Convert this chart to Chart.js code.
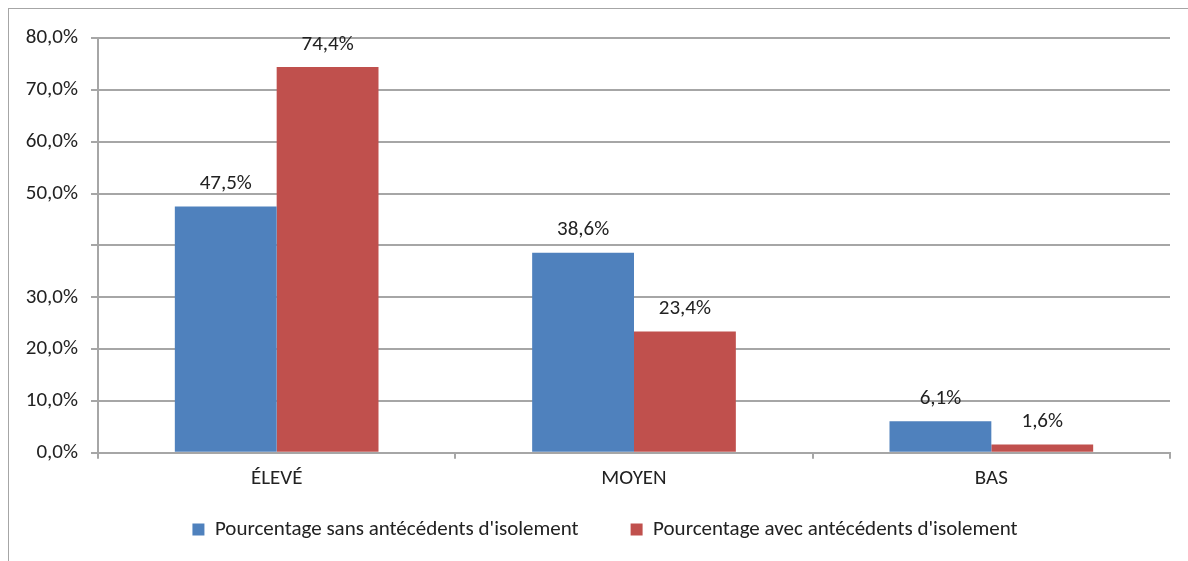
<!DOCTYPE html>
<html>
<head>
<meta charset="utf-8">
<script src="https://cdn.jsdelivr.net/npm/chart.js@4/dist/chart.umd.min.js"></script>
<style>
  html, body { margin: 0; padding: 0; background: #fff; }
  #wrap { position: relative; width: 1188px; height: 561px; overflow: hidden; }
  #frame { position: absolute; left: 8px; top: 8px; width: 1300px; height: 700px;
           border-left: 1px solid #a6a6a6; border-top: 1px solid #a6a6a6; }
  canvas { position: absolute; left: 0; top: 0; }
</style>
</head>
<body>
<div id="wrap">
  <div id="frame"></div>
  <canvas id="chart" width="1188" height="561"></canvas>
</div>
<script>
const categories = ["ÉLEVÉ", "MOYEN", "BAS"]
const seriesNames = ["Pourcentage sans antécédents d'isolement", "Pourcentage avec antécédents d'isolement"]
const sansValues = [47.5, 38.6, 6.1]
const avecValues = [74.4, 23.4, 1.6]
const hiddenTickValues = [40]

const FONT = "Carlito, Calibri, Lato, sans-serif"
const SIZE = 21
const fmt = v => v.toFixed(1).replace(".", ",") + "%"

// étiquettes de valeurs au-dessus des barres
const valueLabels = {
  id: "valueLabels",
  afterDatasetsDraw(chart) {
    const ctx = chart.ctx
    ctx.save()
    ctx.font = SIZE + "px " + FONT
    ctx.fillStyle = "#222"
    ctx.textAlign = "center"
    ctx.textBaseline = "bottom"
    chart.data.datasets.forEach((ds, i) => {
      chart.getDatasetMeta(i).data.forEach((bar, j) => {
        ctx.fillText(fmt(ds.data[j]), bar.x, bar.y - 12)
      })
    })
    ctx.restore()
  }
}

// le grand padding de la légende sert à l'écart horizontal entre les items,
// on remonte donc la légende (et on la décale un peu à droite)
const legendNudge = {
  id: "legendNudge",
  afterLayout(chart) {
    const l = chart.legend
    l.top -= 31
    l.bottom -= 31
    l.left += 20
    l.right += 20
  }
}

new Chart(document.getElementById("chart"), {
  type: "bar",
  data: {
    labels: categories,
    datasets: [
      { label: seriesNames[0], data: sansValues, backgroundColor: "#4F81BD" },
      { label: seriesNames[1], data: avecValues, backgroundColor: "#C0504D" }
    ]
  },
  options: {
    responsive: false,
    animation: false,
    devicePixelRatio: 1,
    categoryPercentage: 0.57,
    barPercentage: 1,
    layout: { padding: { left: 0, right: 18, top: 38, bottom: -20 } },
    plugins: {
      legend: {
        position: "bottom",
        labels: {
          font: { family: FONT, size: SIZE },
          color: "#222",
          boxWidth: 12,
          boxHeight: 12,
          padding: 52
        }
      },
      tooltip: { enabled: false }
    },
    scales: {
      x: {
        grid: { offset: true, drawOnChartArea: false, color: "#a6a6a6", tickLength: 6, lineWidth: 2 },
        border: { color: "#a6a6a6", width: 2 },
        ticks: { font: { family: FONT, size: SIZE }, color: "#222", padding: 7 }
      },
      y: {
        min: 0,
        max: 80,
        afterFit(scale) { scale.width = 98 },
        grid: { color: "#a6a6a6", lineWidth: 2, tickLength: 7 },
        border: { color: "#a6a6a6", width: 2 },
        ticks: {
          stepSize: 10,
          font: { family: FONT, size: SIZE },
          color: "#222",
          padding: 13,
          callback: v => hiddenTickValues.includes(v) ? "" : fmt(v)
        }
      }
    }
  },
  plugins: [valueLabels, legendNudge]
})
</script>
</body>
</html>
